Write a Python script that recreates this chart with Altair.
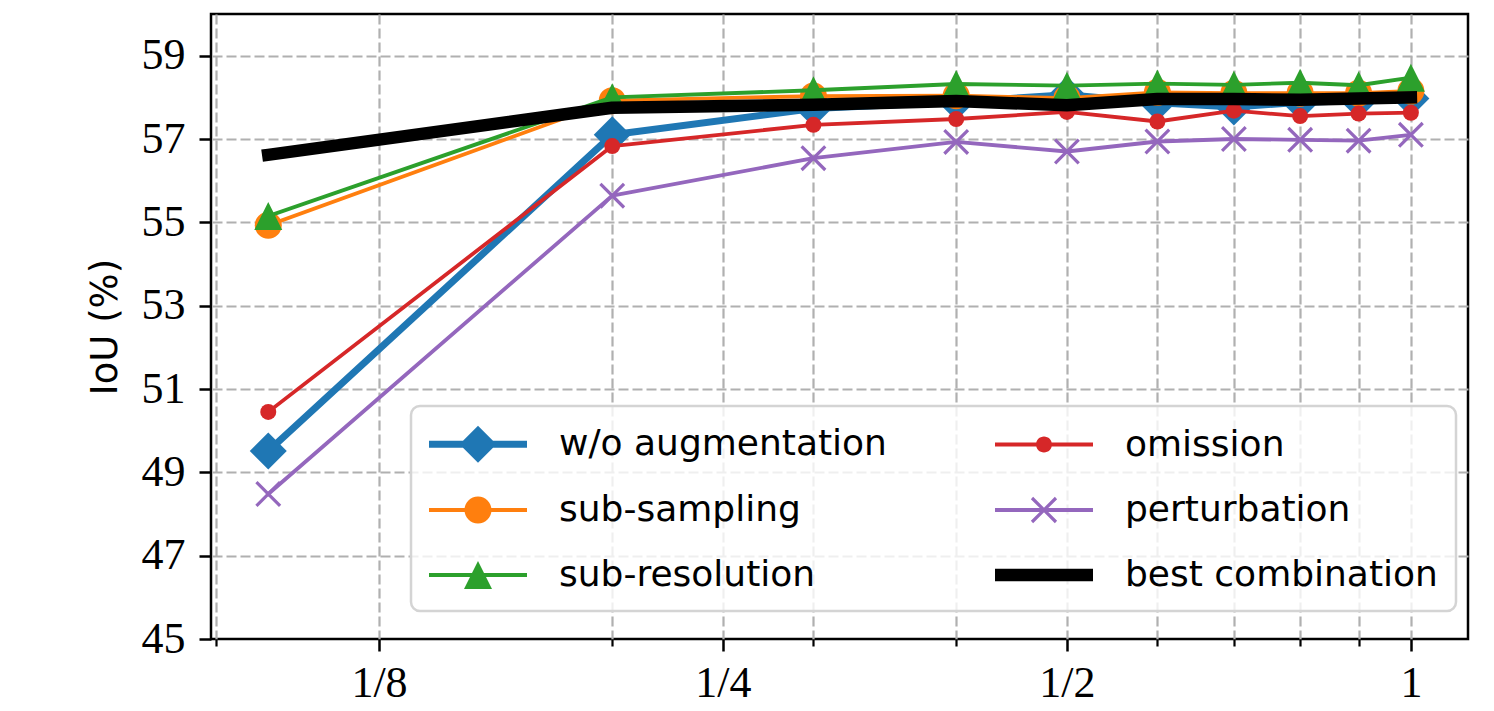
import altair as alt
import pandas as pd

# ---------------- data ----------------
x_fraction = [0.1, 0.2, 0.3, 0.4, 0.5, 0.6, 0.7, 0.8, 0.9, 1.0]

series_names = ["w/o augmentation", "sub-sampling", "sub-resolution",
                "omission", "perturbation", "best combination"]

iou_wo_aug = [49.51, 57.10, 57.73, 57.89, 58.06, 57.87, 57.77, 57.88, 57.92, 57.97]
iou_subsampling = [54.93, 57.92, 58.03, 58.04, 57.98, 58.12, 58.10, 58.10, 58.10, 58.15]
iou_subresolution = [55.15, 58.00, 58.17, 58.32, 58.28, 58.33, 58.30, 58.35, 58.29, 58.47]
iou_omission = [50.45, 56.83, 57.34, 57.48, 57.65, 57.42, 57.68, 57.55, 57.61, 57.63]
iou_perturbation = [48.48, 55.64, 56.54, 56.93, 56.70, 56.94, 57.00, 56.98, 56.96, 57.10]
iou_best = [56.62, 57.75, 57.82, 57.91, 57.81, 57.96, 57.96, 57.94, 57.97, 58.00]

series_values = [iou_wo_aug, iou_subsampling, iou_subresolution,
                 iou_omission, iou_perturbation, iou_best]

xtick_values = [0.125, 0.25, 0.5, 1.0]
xtick_labels = ["1/8", "1/4", "1/2", "1"]
xminor_values = [0.09, 0.2, 0.3, 0.4, 0.6, 0.7, 0.8, 0.9]
ytick_values = [45, 47, 49, 51, 53, 55, 57, 59]
ygrid_values = [47, 49, 51, 53, 55, 57, 59]

# ---------------- styles ----------------
colors = ["#1f77b4", "#ff7f0e", "#2ca02c", "#d62728", "#9467bd", "#000000"]
line_widths = [7.0, 3.8, 3.8, 3.8, 3.8, 12.5]
TRI = "M0,-1L1,1L-1,1Z"
XSHAPE = "M-1,-1L1,1M-1,1L1,-1"
marker_shapes = ["diamond", "circle", TRI, "circle", XSHAPE, None]
marker_sizes = [1369, 729, 784, 256, 560, 0]
marker_filled = [True, True, True, True, False, True]

rows = []
for name, vals in zip(series_names, series_values):
    for xv, yv in zip(x_fraction, vals):
        rows.append({"series": name, "frac": xv, "iou": yv})
df = pd.DataFrame(rows)

x_scale = alt.Scale(type="log", domain=[0.0891, 1.122], nice=False, zero=False)
y_scale = alt.Scale(domain=[45, 60], nice=False, zero=False)

GRID = dict(grid=True, gridColor="#b0b0b0", gridDash=[10, 4], gridWidth=2.2, gridOpacity=1)

label_expr = " : ".join(
    f"datum.value == {v} ? '{l}'" for v, l in zip(xtick_values, xtick_labels)) + " : ''"

x_major = alt.X("frac:Q", scale=x_scale, title=None, axis=alt.Axis(
    orient="bottom", values=xtick_values, labelExpr=label_expr, domain=False,
    tickSize=12, tickWidth=2.5, tickColor="black", labelFont="Liberation Serif",
    labelFontSize=44, labelColor="black", labelPadding=10, labelFlush=False,
    labelOverlap=False, **GRID))
x_minor = alt.X("frac:Q", scale=x_scale, title=None, axis=alt.Axis(
    orient="bottom", values=xminor_values, labels=False, domain=False,
    tickSize=7, tickWidth=2.2, tickColor="black", **GRID))
x_none = alt.X("frac:Q", scale=x_scale, axis=None)

y_axis = alt.Y("iou:Q", scale=y_scale, title="IoU (%)", axis=alt.Axis(
    values=ytick_values, domain=False, grid=False, tickSize=12, tickWidth=2.5,
    tickColor="black", labelFont="Liberation Serif", labelFontSize=44,
    labelColor="black", labelPadding=14, labelOverlap=False, labelFlush=False,
    titleFont="DejaVu Sans", titleFontSize=37, titleFontWeight="normal", titleColor="black",
    titleAngle=270, titleX=-106, titleY=312.5, titleBaseline="middle", titleAlign="center"))
y_grid = alt.Y("iou:Q", scale=y_scale, title=None, axis=alt.Axis(
    values=ygrid_values, domain=False, ticks=False, labels=False, **GRID))
y_none = alt.Y("iou:Q", scale=y_scale, axis=None)

layers = []
for i, name in enumerate(series_names):
    sub = alt.Chart(df).transform_filter(alt.datum.series == name)
    xe = x_major if i == 0 else x_none
    ye = y_axis if i == 0 else y_none
    layers.append(sub.mark_line(color=colors[i], strokeWidth=line_widths[i],
                                strokeCap="square", strokeJoin="round").encode(x=xe, y=ye))
    if marker_shapes[i] is not None:
        xe2 = x_minor if i == 0 else x_none
        ye2 = y_grid if i == 0 else y_none
        if marker_filled[i]:
            pm = sub.mark_point(shape=marker_shapes[i], size=marker_sizes[i], filled=True,
                                color=colors[i], opacity=1, strokeWidth=0)
        else:
            pm = sub.mark_point(shape=marker_shapes[i], size=marker_sizes[i], filled=False,
                                color=colors[i], opacity=1, strokeWidth=3.2)
        layers.append(pm.encode(x=xe2, y=ye2))

# ---------------- legend symbols (line + marker as one filled path) ----------------
U = 20.0  # px per path unit (symbolSize 1600)
L0, L1 = -1.0, 3.9
CX = (L0 + L1) / 2


def poly(pts):
    a = sum(pts[k][0] * pts[(k + 1) % len(pts)][1] - pts[(k + 1) % len(pts)][0] * pts[k][1]
            for k in range(len(pts)))
    if a < 0:
        pts = pts[::-1]
    return "M" + "L".join(f"{p[0]:.4f},{p[1]:.4f}" for p in pts) + "Z"


def bar(px):
    h = px / 2 / U
    return poly([(L0, -h), (L1, -h), (L1, h), (L0, h)])


def diamond(px):
    d = px / 2 / U
    return poly([(CX - d, 0), (CX, -d), (CX + d, 0), (CX, d)])


def circle(px):
    r = px / 2 / U
    return f"M{CX - r:.4f},0A{r:.4f},{r:.4f} 0 1,1 {CX + r:.4f},0A{r:.4f},{r:.4f} 0 1,1 {CX - r:.4f},0Z"


def triangle(px):
    w = px / 2 / U
    return poly([(CX, -w), (CX + w, w), (CX - w, w)])


def xcross(px, t_px):
    a = px / 2 / U
    t = t_px / 2 / U / 2 ** 0.5
    p1 = [(CX - a - t, -a + t), (CX + a - t, a + t), (CX + a + t, a - t), (CX - a + t, -a - t)]
    p2 = [(CX - a - t, a - t), (CX + a - t, -a - t), (CX + a + t, -a + t), (CX - a + t, a + t)]
    return poly(p1) + poly(p2)


legend_paths_by_series = {
    "w/o augmentation": bar(7.0) + diamond(37),
    "sub-sampling": bar(3.8) + circle(27),
    "sub-resolution": bar(3.8) + triangle(28),
    "omission": bar(3.8) + circle(16),
    "perturbation": bar(3.8) + xcross(24, 3.2),
    "best combination": bar(12.5),
}
legend_order = list(series_names)
legend_colors = [colors[series_names.index(s)] for s in legend_order]
legend_paths = [legend_paths_by_series[s] for s in legend_order]

leg = alt.Legend(
    title=None, orient="none", legendX=200, legendY=392, columns=2,
    columnPadding=108, rowPadding=27, symbolSize=1600, symbolStrokeWidth=0,
    symbolOpacity=1, labelFont="DejaVu Sans", labelFontSize=36, labelColor="black",
    labelOffset=90, labelLimit=600, padding=18, fillColor="rgba(255,255,255,0.8)",
    strokeColor="#d4d4d4", cornerRadius=9)

legend_layer = alt.Chart(df).transform_filter(alt.datum.iou < 0).mark_point(
    filled=True).encode(
    x=x_none, y=y_none,
    color=alt.Color("series:N", scale=alt.Scale(domain=legend_order, range=legend_colors), legend=leg),
    shape=alt.Shape("series:N", scale=alt.Scale(domain=legend_order, range=legend_paths), legend=leg),
)
layers.append(legend_layer)

chart = alt.layer(*layers).resolve_axis(x="independent", y="independent").properties(
    width=1257, height=625,
    padding={"left": 86, "top": 14, "right": 5, "bottom": 5},
    background="white",
).configure_view(stroke="black", strokeWidth=2.5).configure_legend(strokeWidth=2.5)

chart.save("out.html", embed_options={"renderer": "svg", "actions": False})
